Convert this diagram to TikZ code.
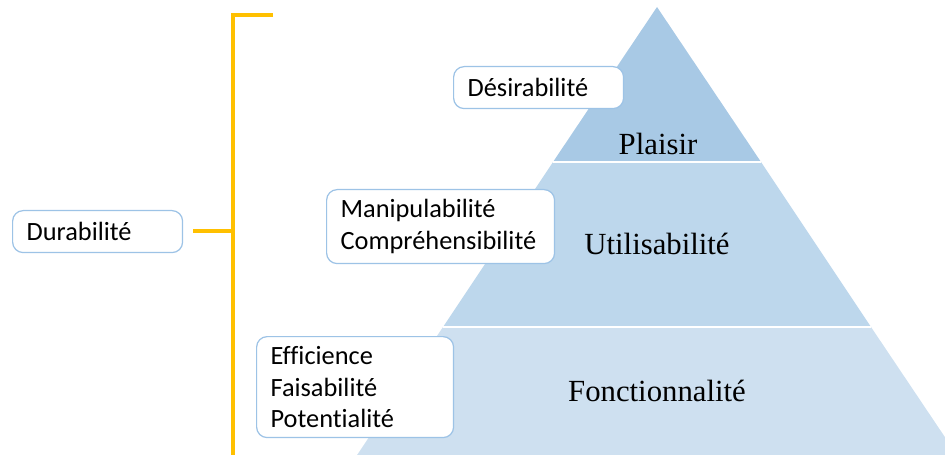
\documentclass[tikz,border=0pt]{standalone}
\usepackage{fontspec}
\setmainfont{Liberation Serif}
\newfontfamily\boxfont[Ligatures={NoCommon,NoRare,NoContextual}]{Carlito}
\usetikzlibrary{positioning, calc}
\definecolor{plaisirblue}{RGB}{168,201,229}
\definecolor{utilblue}{RGB}{189,215,236}
\definecolor{fonctblue}{RGB}{206,224,240}
\definecolor{boxline}{RGB}{157,195,230}
\definecolor{bracketyellow}{RGB}{255,192,0}
\tikzset{
    infobox/.style={draw=boxline, fill=white, rounded corners=6pt, line width=0.7pt,
        anchor=north west, align=left, inner xsep=0.28cm, inner ysep=0pt,
        font=\boxfont\fontsize{15}{18}\selectfont},
    layerlabel/.style={font=\fontsize{17.5}{20}\selectfont, inner sep=0pt},
    bracket/.style={draw=bracketyellow, line width=2pt}
}

\begin{document}
\begin{tikzpicture}[x=0.02cm, y=-0.02cm]
    \useasboundingbox (0,0) rectangle (945,455);

    %the pyramid, cut by the page edge
    \begin{scope}
        \clip (0,0) rectangle (945,455);
        \coordinate (apex) at (657,7);
        \coordinate (L1) at (553,162);
        \coordinate (R1) at (761,162);
        \coordinate (L2) at (443,327);
        \coordinate (R2) at (871,327);
        \coordinate (L3) at (347,470);
        \coordinate (R3) at (967,470);

        \fill[plaisirblue] (apex) -- (L1) -- (R1) -- cycle;
        \fill[utilblue] (L1) -- (L2) -- (R2) -- (R1) -- cycle;
        \fill[fonctblue] (L2) -- (L3) -- (R3) -- (R2) -- cycle;

        %white seams between the layers
        \draw[white, line width=1.2pt] (L1) -- (R1);
        \draw[white, line width=1.2pt] (L2) -- (R2);
    \end{scope}

    %layer names
    \node[layerlabel] (plaisir) at (658,144) {Plaisir};
    \node[layerlabel] (utilisabilite) at (657,244) {Utilisabilité};
    \node[layerlabel] (fonctionnalite) at (657,391) {Fonctionnalité};

    %yellow bracket
    \coordinate (brtop) at (273,15);
    \coordinate (brcorner) at (233,15);
    \coordinate (brbottom) at (233,455);
    \coordinate (brstub) at (193,231);
    \draw[bracket] (brtop) -- (brcorner) -- (brbottom);
    \draw[bracket] (brstub) -- (233,231);

    %criteria boxes
    \node[infobox, text width=2.84cm, minimum height=0.84cm] (durabilite) at (12,210) {Durabilité};
    \node[infobox, text width=2.84cm, minimum height=0.84cm] (desirabilite) at (453,66) {Désirabilité};
    \node[infobox, text width=4.0cm, minimum height=1.48cm] (manip) at (326,189)
        {Manipulabilité\\Compréhensibilité};
    \node[infobox, text width=3.38cm, minimum height=2.02cm] (efficience) at (256,336)
        {Efficience\\Faisabilité\\Potentialité};
\end{tikzpicture}
\end{document}
